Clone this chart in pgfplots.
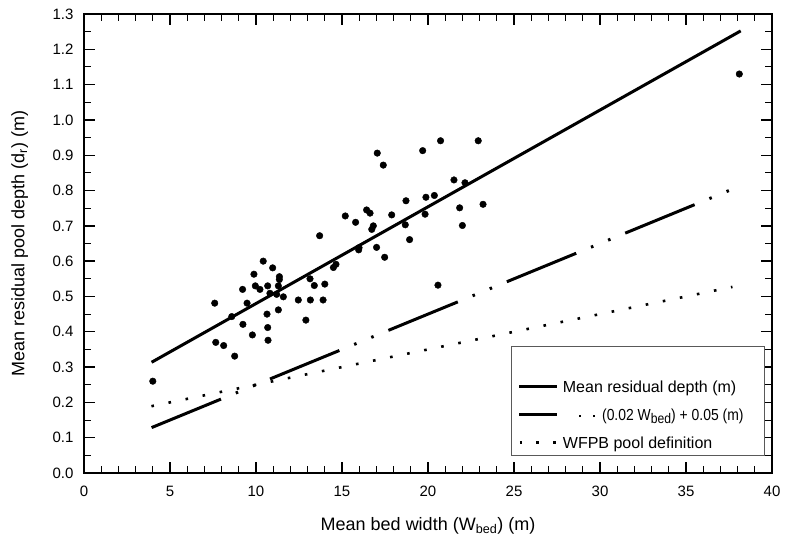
\documentclass[border=0pt]{standalone}
\usepackage{fontspec}
\setmainfont{Liberation Sans}
\usepackage{graphicx}
\usepackage{pgfplots}
\usepackage{pgfplotstable}
\pgfplotsset{compat=1.18}

\pgfplotstableread{
x y
4.0 0.26
7.6 0.481
7.66 0.370
8.12 0.361
8.59 0.443
8.76 0.331
9.22 0.520
9.24 0.421
9.48 0.481
9.79 0.391
9.88 0.563
9.96 0.530
10.23 0.520
10.42 0.600
10.64 0.450
10.68 0.530
10.68 0.412
10.70 0.376
10.81 0.509
10.97 0.581
11.2 0.506
11.3 0.462
11.3 0.530
11.36 0.556
11.36 0.548
11.59 0.499
12.46 0.490
12.9 0.433
13.14 0.550
13.16 0.490
13.39 0.531
13.7 0.672
13.9 0.490
14.0 0.535
14.5 0.582
14.65 0.591
15.19 0.728
15.79 0.710
15.97 0.632
15.99 0.638
16.43 0.745
16.63 0.736
16.73 0.690
16.82 0.700
17.01 0.639
17.05 0.906
17.4 0.872
17.48 0.611
17.89 0.731
18.68 0.703
18.72 0.771
18.93 0.661
19.69 0.913
19.83 0.733
19.88 0.781
20.37 0.786
20.58 0.532
20.73 0.941
21.51 0.830
21.84 0.751
22.0 0.701
22.15 0.822
22.92 0.941
23.2 0.761
38.1 1.13
}\pts

\newcommand\ls{\rule[-4bp]{0pt}{16bp}}

\begin{document}
\begin{tikzpicture}
\begin{axis}[
  scale only axis, width=688bp, height=459bp,
  xmin=0, xmax=40, ymin=0, ymax=1.3,
  xtick={0,5,10,15,20,25,30,35,40},
  ytick={0,0.1,0.2,0.3,0.4,0.5,0.6,0.7,0.8,0.9,1.0,1.1,1.2,1.3},
  minor x tick num=4, minor y tick num=1,
  tick align=inside, tick pos=both,
  major tick length=11bp, minor tick length=7bp,
  every major tick/.append style={line width=1.4bp, black},
  every minor tick/.append style={line width=1bp, black},
  axis line style={line width=1.5bp},
  /pgf/number format/assume math mode=true,
  tick label style={font=\fontsize{15bp}{18bp}\selectfont},
  yticklabel style={/pgf/number format/fixed, /pgf/number format/fixed zerofill, /pgf/number format/precision=1, xshift=-7bp},
  xticklabel style={yshift=-10bp},
  xlabel={Mean bed width (W\textsubscript{bed}) (m)},
  ylabel={Mean residual pool depth (d\textsubscript{r}) (m)},
  label style={font=\fontsize{18bp}{21bp}\selectfont},
  xlabel style={at={(axis description cs:0.5,-0.1253)}, anchor=base},
  ylabel style={at={(axis description cs:-0.0865,0.5)}, anchor=base},
  legend cell align=left,
  legend style={at={(1,0)}, anchor=south east, xshift=-7bp, yshift=17bp,
    draw=black!65, line width=1bp, fill=white,
    inner xsep=6bp, inner ysep=4bp, row sep=10.5bp, column sep=0bp,
    font=\fontsize{16bp}{19bp}\selectfont,
    nodes={inner xsep=4bp, inner ysep=2bp}},
]
\addlegendimage{empty legend}
\addlegendentry{\rule{0pt}{11.5bp}}

\addplot[only marks, mark=*, mark size=3.3bp, black, forget plot] table[x=x, y=y] {\pts};

\addplot[black, line width=3bp,
  legend image code/.code={\draw[black, line width=3bp] (0bp,0bp) -- (38bp,0bp);}]
  coordinates {(3.93,0.3136) (38.18,1.2521)};
\addlegendentry{\ls Mean residual depth (m)}

\addplot[black, line width=3bp, dash pattern=on 75bp off 16bp on 2.5bp off 16bp on 2.5bp off 16bp,
  legend image code/.code={\draw[black, line width=3bp, solid] (0bp,0bp) -- (38bp,0bp);}]
  coordinates {(3.93,0.1286) (37.5,0.80)};
\addlegendentry{\ls\hspace*{16bp}\rule[3bp]{2.5bp}{2.5bp}\hspace*{11.2bp}\rule[3bp]{2.5bp}{2.5bp}\hspace*{7bp}\scalebox{0.87}[1]{(0.02 W\raisebox{-3.5bp}{\fontsize{14bp}{14bp}\selectfont bed}) + 0.05 (m)}\hspace*{11bp}}

\addplot[black, line width=2.6bp, dash pattern=on 2.6bp off 14.8bp,
  legend image code/.code={\draw[black, line width=2.6bp, dash pattern=on 2.6bp off 14bp] (0.4bp,0bp) -- (38bp,0bp);}]
  coordinates {(3.92,0.1892) (37.7,0.527)};
\addlegendentry{\ls WFPB pool definition}
\end{axis}
\pgfresetboundingbox
\path[use as bounding box] ([xshift=-84bp,yshift=-69bp]current axis.south west) rectangle ([xshift=13bp,yshift=14bp]current axis.north east);
\end{tikzpicture}
\end{document}
